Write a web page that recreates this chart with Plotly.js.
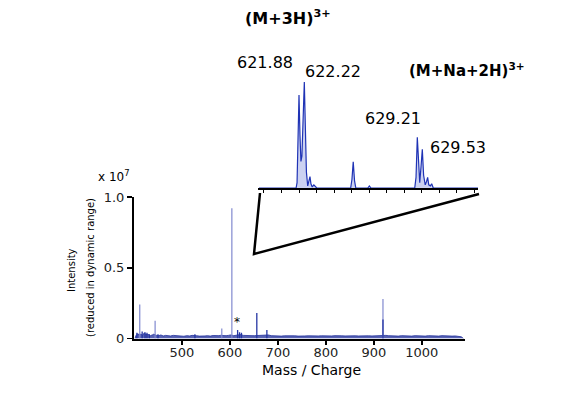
<!DOCTYPE html>
<html><head><meta charset="utf-8">
<script src="https://cdn.plot.ly/plotly-3.0.1.min.js"></script>
<style>html,body{margin:0;padding:0;background:#fff}#chart{width:566px;height:393px}</style>
</head><body><div id="chart"></div>
<script>
// Main spectrum: strong (light-drawn) sticks
const lightMz  = [412, 444, 583, 604, 919];
const lightInt = [0.24, 0.125, 0.07, 0.92, 0.28];
// Main spectrum: dark sticks
const darkMz  = [406, 417, 423, 427, 432, 450, 527, 616, 620, 624, 656, 677, 919];
const darkInt = [0.04, 0.05, 0.045, 0.04, 0.03, 0.03, 0.03, 0.06, 0.045, 0.04, 0.18, 0.06, 0.135];
// Baseline noise
const noiseMz = [402,404,408,410,414,419,421,425,429,434,
 438,441,447,452,456,461,466,471,476,482,
 487,493,498,504,510,516,521,526,530,536,
 542,548,553,559,565,571,577,580,586,592,
 597,601,608,612,618,622,628,634,640,646,
 651,660,666,672,680,686,693,700,707,714,
 721,728,735,742,749,756,763,770,777,784,
 791,798,805,812,819,826,833,840,847,854,
 861,868,875,882,889,896,903,910,915,925,
 930,937,944,951,958,965,972,979,986,993,
 1000,1007,1014,1021,1028,1035,1042,1049,1056,1063,
 1070,1077,1082,1085,1087];
const noiseInt = [0.0,0.02,0.035,0.025,0.03,0.022,0.04,0.028,0.03,0.02,
 0.025,0.03,0.022,0.02,0.025,0.018,0.022,0.02,0.018,0.022,
 0.02,0.018,0.02,0.016,0.02,0.018,0.022,0.018,0.02,0.017,
 0.02,0.018,0.02,0.017,0.021,0.018,0.02,0.022,0.019,0.02,
 0.022,0.025,0.02,0.022,0.03,0.028,0.022,0.02,0.018,0.02,
 0.02,0.022,0.018,0.02,0.025,0.02,0.018,0.02,0.017,0.019,
 0.02,0.018,0.019,0.017,0.02,0.018,0.019,0.017,0.02,0.018,
 0.019,0.017,0.02,0.018,0.02,0.017,0.019,0.018,0.02,0.017,
 0.019,0.018,0.02,0.017,0.019,0.018,0.02,0.018,0.02,0.022,
 0.02,0.018,0.02,0.017,0.02,0.018,0.019,0.017,0.02,0.018,
 0.019,0.017,0.02,0.018,0.019,0.017,0.02,0.018,0.019,0.017,
 0.018,0.016,0.012,0.006,0.0];
// Inset profile (zoom of the 3+ isotope clusters)
const insetMz = [619.4,621.70,621.76,621.82,621.88,621.94,622.00,622.06,622.14,622.21,622.27,622.34,622.42,622.50,622.56,622.62,622.70,622.80,622.88,622.98,
 625.08,625.16,625.24,625.32,625.40,626.14,626.24,626.34,
 629.05,629.13,629.21,629.28,629.36,629.44,629.52,629.60,629.70,629.78,629.85,629.92,630.02,630.10,630.20,633.0];
const insetInt = [0,0,0.05,0.55,0.877,0.5,0.25,0.3,0.75,1.0,0.6,0.15,0.02,0.06,0.107,0.04,0.01,0.03,0.02,0,
 0,0.08,0.248,0.07,0,0,0.02,0,
 0,0.1,0.478,0.2,0.05,0.2,0.365,0.12,0.03,0.06,0.10,0.03,0.02,0.04,0,0];
const yTickVals = [0, 0.5, 1.0];
const yTickText = ['0', '0.5', '1.0'];
const xTickVals = [500, 600, 700, 800, 900, 1000];

function sticks(mz, h) {
  const x = [], y = [];
  mz.forEach((m, i) => { x.push(m, m, null); y.push(0, h[i], null); });
  return {x, y};
}
const L = sticks(lightMz, lightInt), D = sticks(darkMz, darkInt);
const W = 566, H = 393;
const px = v => v / W, py = v => 1 - v / H;

const FONT = 'DejaVu Sans, sans-serif';
const traces = [
  {x: noiseMz, y: noiseInt, type: 'scatter', mode: 'lines', fill: 'tozeroy',
   line: {color: '#1f2d9a', width: 0.8}, fillcolor: 'rgba(31,45,154,0.75)', xaxis: 'x', yaxis: 'y', hoverinfo: 'skip'},
  {x: L.x, y: L.y, type: 'scatter', mode: 'lines', line: {color: '#8089cf', width: 1.2}, xaxis: 'x', yaxis: 'y'},
  {x: D.x, y: D.y, type: 'scatter', mode: 'lines', line: {color: '#2536a3', width: 1.3}, xaxis: 'x', yaxis: 'y'},
  {x: insetMz, y: insetInt, type: 'scatter', mode: 'lines', fill: 'tozeroy',
   line: {color: '#1f33b5', width: 1.2}, fillcolor: 'rgba(110,125,215,0.35)', xaxis: 'x2', yaxis: 'y2'}
];

const ann = (x, y, text, size, extra) => Object.assign({xref: 'paper', yref: 'paper', x: px(x), y: py(y),
  text, showarrow: false, xanchor: 'center', yanchor: 'middle', font: {family: FONT, size, color: '#000'}}, extra || {});

const layout = {
  width: W, height: H, margin: {l: 0, r: 0, t: 0, b: 0},
  paper_bgcolor: '#fff', plot_bgcolor: 'rgba(0,0,0,0)', showlegend: false,
  xaxis: {domain: [px(134), px(465)], range: [400, 1090], showline: true, linecolor: '#000', linewidth: 2,
    ticks: 'outside', ticklen: 4, tickwidth: 1.5, tickcolor: '#000', tickvals: xTickVals, ticklabelstandoff: -3,
    showgrid: false, zeroline: false, tickfont: {family: FONT, size: 13, color: '#222'}, anchor: 'y'},
  yaxis: {domain: [py(338.5), py(197)], range: [0, 1.0], showline: true, linecolor: '#000', linewidth: 2,
    ticks: 'outside', ticklen: 5, tickwidth: 1.5, tickcolor: '#000', tickvals: yTickVals, ticktext: yTickText,
    showgrid: false, zeroline: false, tickfont: {family: FONT, size: 13, color: '#222'}, anchor: 'x'},
  xaxis2: {domain: [px(258), px(478)], range: [619.34, 632.97], showline: true, linecolor: '#000', linewidth: 1.5,
    ticks: 'outside', ticklen: 3, tickwidth: 1, tickcolor: '#000', tick0: 621.88, dtick: 1.085,
    showticklabels: false, showgrid: false, zeroline: false, anchor: 'y2'},
  yaxis2: {domain: [py(188), py(82)], range: [0, 1.0], visible: false, anchor: 'x2'},
  shapes: [
    {type: 'path', xref: 'paper', yref: 'paper',
     path: `M ${px(260)},${py(193)} L ${px(254)},${py(254)} L ${px(479)},${py(194)}`,
     line: {color: '#000', width: 2.5}}
  ],
  annotations: [
    ann(288, 18, '<b>(M+3H)<sup>3+</sup></b>', 16),
    ann(265, 63, '621.88', 16),
    ann(333, 71, '622.22', 16),
    ann(467, 70, '<b>(M+Na+2H)<sup>3+</sup></b>', 15),
    ann(393, 118, '629.21', 16),
    ann(458, 147, '629.53', 16),
    ann(114, 176, 'x 10<sup>7</sup>', 12),
    ann(237, 322, '*', 12),
    ann(311, 370, 'Mass / Charge', 14),
    ann(71, 270, 'Intensity', 10, {textangle: -90}),
    ann(90, 268, '(reduced in dynamic range)', 10, {textangle: -90})
  ]
};
Plotly.newPlot('chart', traces, layout, {staticPlot: true, displayModeBar: false});
</script></body></html>
